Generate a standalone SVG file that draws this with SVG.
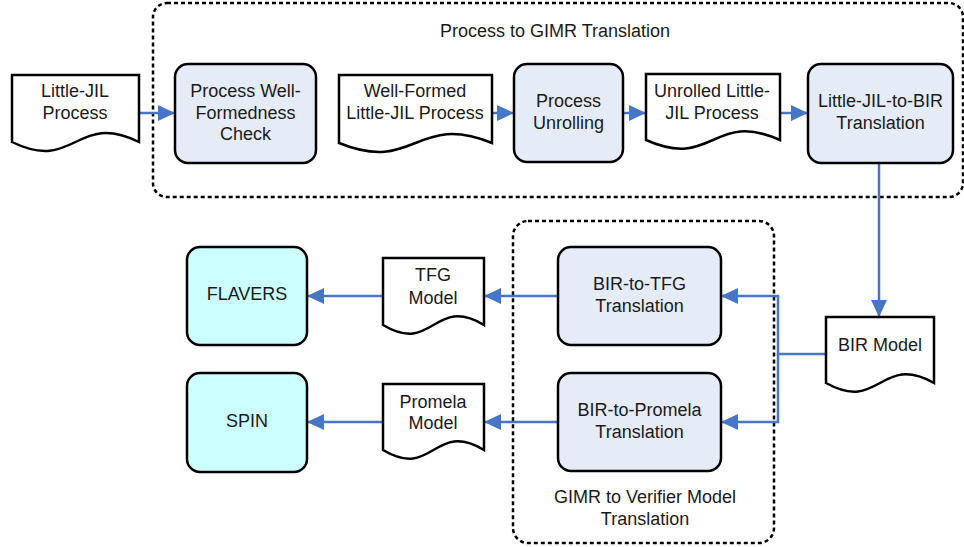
<svg xmlns="http://www.w3.org/2000/svg" width="964" height="547" viewBox="0 0 964 547">
  <style>
    .group { fill: none; stroke: #000; stroke-width: 2.5; stroke-dasharray: 4 3; }
    .proc { fill: #E6ECF7; stroke: #000; stroke-width: 2.5; }
    .tool { fill: #CCFFFF; stroke: #000; stroke-width: 2.5; }
    .doc { fill: #fff; stroke: #000; stroke-width: 2.5; stroke-linejoin: miter; }
    .edge { fill: none; stroke: #4776C6; stroke-width: 2.5; }
    text { font-family: "Liberation Sans", Arial, sans-serif; font-size: 18px; fill: #1a1a1a; text-anchor: middle; }
  </style>
  <defs>
    <marker id="arrow" markerUnits="userSpaceOnUse" markerWidth="17" markerHeight="16" refX="17" refY="8" orient="auto">
      <path d="M0,0 L17,8 L0,16 Z" fill="#4776C6"/>
    </marker>
  </defs>

  <!-- grouping boxes -->
  <g id="group-process-to-gimr">
    <rect class="group" x="153" y="3" width="810" height="194" rx="14"/>
    <text x="555" y="37">Process to GIMR Translation</text>
  </g>
  <g id="group-gimr-to-verifier">
    <rect class="group" x="513" y="221" width="261" height="322" rx="15"/>
    <text x="645" y="503">GIMR to Verifier Model</text>
    <text x="645" y="525">Translation</text>
  </g>

  <!-- connectors -->
  <g id="connectors">
    <path class="edge" d="M139,113 H175" marker-end="url(#arrow)"/>
    <path class="edge" d="M492,113 H514" marker-end="url(#arrow)"/>
    <path class="edge" d="M623,113 H646" marker-end="url(#arrow)"/>
    <path class="edge" d="M780,113 H808" marker-end="url(#arrow)"/>
    <path class="edge" d="M879,163 V317" marker-end="url(#arrow)"/>
    <path class="edge" d="M826,354 H778 V296 H721" marker-end="url(#arrow)"/>
    <path class="edge" d="M778,354 V422 H721" marker-end="url(#arrow)"/>
    <path class="edge" d="M558,296 H484" marker-end="url(#arrow)"/>
    <path class="edge" d="M383,296 H307" marker-end="url(#arrow)"/>
    <path class="edge" d="M558,422 H484" marker-end="url(#arrow)"/>
    <path class="edge" d="M383,422 H307" marker-end="url(#arrow)"/>
  </g>

  <!-- nodes -->
  <g id="little-jil-process">
    <path class="doc" d="M12,75 H139 V142 C75.5,111 75.5,173 12,142 Z"/>
    <text x="75" y="97">Little-JIL</text>
    <text x="75" y="119">Process</text>
  </g>
  <g id="well-formedness-check">
    <rect class="proc" x="175" y="64" width="141" height="99" rx="13"/>
    <text x="245.5" y="97">Process Well-</text>
    <text x="245.5" y="119">Formedness</text>
    <text x="245.5" y="140">Check</text>
  </g>
  <g id="well-formed-process">
    <path class="doc" d="M339,75 H492 V143 C415.5,112 415.5,174 339,143 Z"/>
    <text x="415" y="97">Well-Formed</text>
    <text x="415" y="119">Little-JIL Process</text>
  </g>
  <g id="process-unrolling">
    <rect class="proc" x="514" y="64" width="109" height="98" rx="13"/>
    <text x="568.5" y="107">Process</text>
    <text x="568.5" y="129">Unrolling</text>
  </g>
  <g id="unrolled-process">
    <path class="doc" d="M646,74 H780 V140 C713,110 713,170 646,140 Z"/>
    <text x="712" y="97">Unrolled Little-</text>
    <text x="712" y="119">JIL Process</text>
  </g>
  <g id="little-jil-to-bir">
    <rect class="proc" x="808" y="64" width="145" height="99" rx="13"/>
    <text x="880.5" y="107">Little-JIL-to-BIR</text>
    <text x="880.5" y="129">Translation</text>
  </g>
  <g id="bir-model">
    <path class="doc" d="M826,317 H934 V383 C880,353 880,413 826,383 Z"/>
    <text x="880" y="351">BIR Model</text>
  </g>
  <g id="bir-to-tfg">
    <rect class="proc" x="558" y="247" width="163" height="98" rx="13"/>
    <text x="639.5" y="290">BIR-to-TFG</text>
    <text x="639.5" y="312">Translation</text>
  </g>
  <g id="bir-to-promela">
    <rect class="proc" x="558" y="373" width="163" height="98" rx="13"/>
    <text x="639.5" y="416">BIR-to-Promela</text>
    <text x="639.5" y="438">Translation</text>
  </g>
  <g id="tfg-model">
    <path class="doc" d="M383,258 H484 V325 C433.5,295 433.5,355 383,325 Z"/>
    <text x="433" y="281">TFG</text>
    <text x="433" y="304">Model</text>
  </g>
  <g id="promela-model">
    <path class="doc" d="M383,384 H484 V450 C433.5,420 433.5,480 383,450 Z"/>
    <text x="433" y="408">Promela</text>
    <text x="433" y="429">Model</text>
  </g>
  <g id="flavers">
    <rect class="tool" x="187" y="247" width="120" height="98" rx="13"/>
    <text x="247" y="300">FLAVERS</text>
  </g>
  <g id="spin">
    <rect class="tool" x="187" y="373" width="120" height="99" rx="13"/>
    <text x="247" y="427">SPIN</text>
  </g>
</svg>
